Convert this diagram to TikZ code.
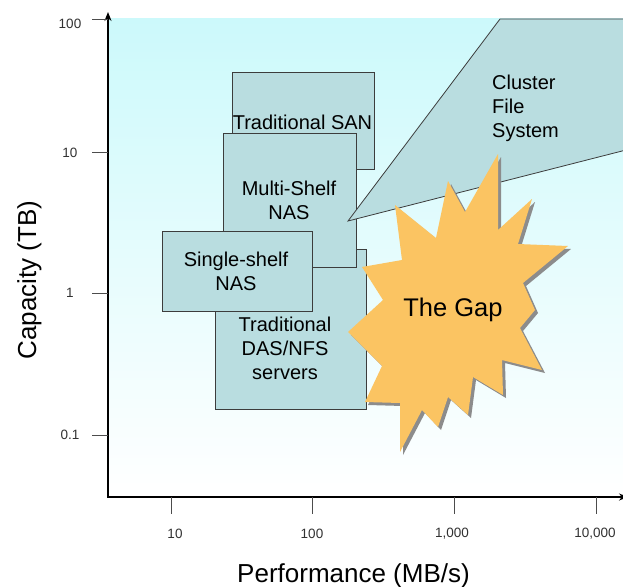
\documentclass[tikz,border=0pt]{standalone}
\usepackage{fontspec}
\setmainfont{Liberation Sans}
\usetikzlibrary{arrows.meta}
\definecolor{boxfill}{RGB}{185,221,224}
\definecolor{boxline}{RGB}{60,60,60}
\definecolor{starfill}{RGB}{251,196,98}
\definecolor{bgtop}{RGB}{204,249,251}
\definecolor{ticklbl}{RGB}{50,50,50}
\begin{document}
\begin{tikzpicture}[x=1pt,y=-1pt,
  box/.style={draw=boxline, fill=boxfill, line width=0.8pt, inner sep=0pt, anchor=north west},
  lbl/.style={font=\fontsize{20}{24.2}\selectfont, inner sep=0pt, align=center, text=black},
  ticklab/.style={font=\fontsize{13.5}{15}\selectfont, inner sep=0pt, text=ticklbl},
  tickline/.style={line width=0.9pt, draw=black!70},
  axis/.style={line width=2.5pt, black},
  title/.style={font=\fontsize{26}{30}\selectfont, inner sep=0pt, text=black}]
\useasboundingbox (0,0) rectangle (623,586);
\fill[white] (0,0) rectangle (623,586);
% plot background
\fill[top color=bgtop, bottom color=white] (108,19) rectangle (623,497);

% boxes
\node[box, minimum width=142pt, minimum height=97pt] (san) at (232,72) {};
\node[box, minimum width=151pt, minimum height=160pt] (das) at (215,249) {};
\node[box, minimum width=133pt, minimum height=134pt] (multi) at (223,133) {};
\node[box, minimum width=150pt, minimum height=80pt] (single) at (162,231) {};

% cluster file system wedge
\draw[draw=boxline, fill=boxfill, line width=0.8pt, line join=miter]
  (348,221) -- (500,19) -- (626,19) -- (626,150) -- cycle;

% the gap star
\def\starpath{(362,267) -- (402,260) -- (395,205) -- (436,238) -- (448,181) -- (465,212)
  -- (498,154) -- (498,230) -- (532,199) -- (518,244) -- (568,246) -- (523,283)
  -- (535,310) -- (520,328) -- (542,370) -- (502,360) -- (503,395) -- (473,377)
  -- (468,415) -- (448,397) -- (438,427) -- (422,410) -- (400,452) -- (400,403)
  -- (365,402) -- (382,366) -- (348,332) -- (383,300) -- cycle}
\fill[black!45, shift={(3pt,-3pt)}] \starpath;
\fill[starfill] \starpath;

% texts
\node[lbl, anchor=base] (santxt) at (302.5,129) {Traditional SAN};
\node[lbl, anchor=center] (multitxt) at (289,200.5) {Multi-Shelf\\NAS};
\node[lbl, anchor=center] (singletxt) at (236,271.5) {Single-shelf\\NAS};
\node[lbl, anchor=center] (dastxt) at (285,348.5) {Traditional\\DAS/NFS\\servers};
\node[lbl, anchor=north west, align=left] (clustertxt) at (492,74.6) {Cluster\\File\\System};
\node[inner sep=0pt, font=\fontsize{25.5}{30}\selectfont, anchor=base] (gaptxt) at (453,316) {The Gap};

% axes
\coordinate (origin) at (108,497);
\coordinate (ytop) at (108,12);
\coordinate (xend) at (628,497);
\draw[axis, line join=miter, {Stealth[length=9pt,width=7pt]}-{Stealth[length=9pt,width=7pt]}] (ytop) -- (origin) -- (xend);

% y ticks
\foreach \y/\t/\ly/\n in {19/100/24/ya, 152/10/153/yb, 293/1/293/yc, 435/0.1/435/yd}{
  \coordinate (\n a) at (92,\y);
  \coordinate (\n b) at (108,\y);
  \draw[tickline] (\n a) -- (\n b);
  \node[ticklab, anchor=center] (\n l) at (70,\ly) {\t};
}
% x ticks
\foreach \x/\t/\lx/\n in {171/10/175/xa, 312/100/312/xb, 454/{1,000}/452/xc, 596/{10,000}/595/xd}{
  \coordinate (\n a) at (\x,497);
  \coordinate (\n b) at (\x,514);
  \draw[tickline] (\n a) -- (\n b);
  \node[ticklab, anchor=center] (\n l) at (\lx,534) {\t};
}

% axis titles
\node[title, anchor=base, rotate=90] (ytitle) at (36,280) {Capacity (TB)};
\node[title, anchor=base] (xtitle) at (353.5,582) {Performance (MB/s)};
\end{tikzpicture}
\end{document}
